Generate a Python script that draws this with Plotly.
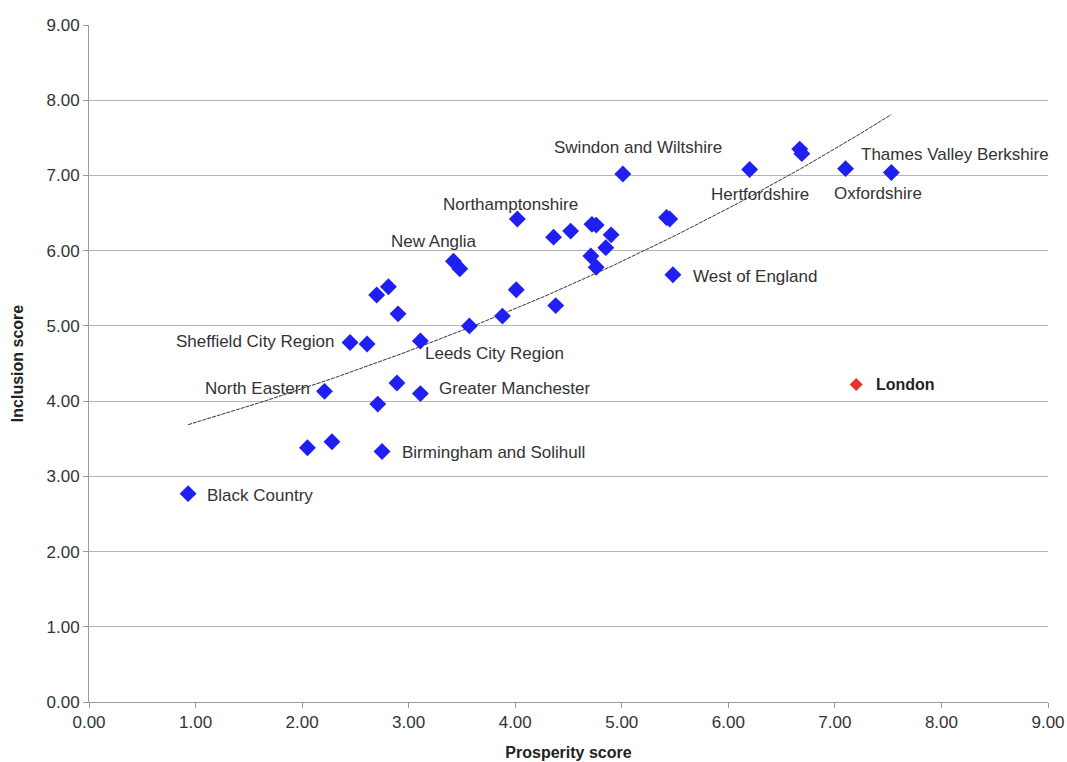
import numpy as np
import plotly.graph_objects as go

# Data (LEPs excluding London)
prosperity = [0.93, 2.05, 2.28, 2.75, 2.71, 2.21, 2.89, 3.11, 2.45, 2.61, 3.11, 3.57, 3.88,
              4.01, 4.38, 2.70, 2.81, 2.90, 3.42, 3.48, 4.02, 4.36, 4.52, 4.72, 4.76,
              4.90, 4.85, 4.71, 4.76, 5.42, 5.45, 5.48, 5.01, 6.20, 6.67, 6.69, 7.10, 7.53]
inclusion = [2.77, 3.38, 3.46, 3.33, 3.96, 4.13, 4.24, 4.10, 4.78, 4.76, 4.80, 5.00, 5.13,
             5.48, 5.27, 5.41, 5.52, 5.16, 5.86, 5.76, 6.42, 6.18, 6.26, 6.35, 6.34,
             6.21, 6.04, 5.93, 5.78, 6.44, 6.42, 5.68, 7.02, 7.08, 7.35, 7.29, 7.09, 7.04]
names = ["Black Country", "", "", "Birmingham and Solihull", "", "North Eastern", "",
         "Greater Manchester", "Sheffield City Region", "", "Leeds City Region", "", "",
         "", "", "", "", "", "New Anglia", "", "Northamptonshire", "", "", "", "",
         "", "", "", "", "", "", "West of England", "Swindon and Wiltshire", "Hertfordshire",
         "", "", "Oxfordshire", "Thames Valley Berkshire"]

london_x = [7.20]
london_y = [4.22]
london_name = ["London"]

x_ticks = [0, 1, 2, 3, 4, 5, 6, 7, 8, 9]
y_ticks = [0, 1, 2, 3, 4, 5, 6, 7, 8, 9]

# label placement: (xanchor, yanchor, xshift, yshift)
label_pos = {
    "Black Country": ("left", "middle", 17, -2),
    "Birmingham and Solihull": ("left", "middle", 18, -1),
    "Greater Manchester": ("left", "middle", 17, 5),
    "North Eastern": ("right", "middle", -12, 3),
    "Sheffield City Region": ("right", "middle", -14, 1),
    "Leeds City Region": ("left", "middle", 3, -13),
    "New Anglia": ("center", "middle", -19, 20),
    "Northamptonshire": ("center", "middle", -7, 15),
    "Swindon and Wiltshire": ("center", "middle", 15, 26),
    "Hertfordshire": ("center", "middle", 10, -25),
    "Oxfordshire": ("center", "middle", 32, -25),
    "Thames Valley Berkshire": ("left", "middle", -32, 18),
    "West of England": ("left", "middle", 18, -2),
}

FONT = "Liberation Sans"

# exponential trendline fitted to all points (including London)
px = np.array(prosperity + london_x)
py = np.array(inclusion + london_y)
b, ln_a = np.polyfit(px, np.log(py), 1)
tx = np.linspace(min(prosperity), max(prosperity), 100)
ty = np.exp(ln_a) * np.exp(b * tx)

fig = go.Figure()
fig.add_trace(go.Scatter(x=tx, y=ty, mode="lines",
                         line=dict(color="#333333", width=1, dash="4px,1px"),
                         hoverinfo="skip", showlegend=False))
fig.add_trace(go.Scatter(x=prosperity, y=inclusion, mode="markers",
                         marker=dict(symbol="diamond", size=13, color="#1f1ff2"),
                         showlegend=False))
fig.add_trace(go.Scatter(x=london_x, y=london_y, mode="markers",
                         marker=dict(symbol="diamond", size=10, color="#e8332a"),
                         showlegend=False))

for x, y, n in zip(prosperity, inclusion, names):
    if not n:
        continue
    xa, ya, xs, ys = label_pos[n]
    fig.add_annotation(x=x, y=y, text=n, showarrow=False, xanchor=xa, yanchor=ya,
                       xshift=xs, yshift=ys, font=dict(family=FONT, size=17, color="#333333"))

fig.add_annotation(x=london_x[0], y=london_y[0], text="<b>London</b>", showarrow=False,
                   xanchor="left", yanchor="middle", xshift=18, yshift=0,
                   font=dict(family=FONT, size=16, color="#222222"))

fig.update_layout(
    width=1067, height=762,
    margin=dict(l=89, r=19, t=25, b=60),
    paper_bgcolor="white", plot_bgcolor="white",
    font=dict(family=FONT, size=16, color="#333333"),
    xaxis=dict(range=[0, 9], tickvals=x_ticks, ticktext=[f"{v:.2f}" for v in x_ticks],
               automargin=False, tickfont=dict(size=17),
               showgrid=False, zeroline=False, showline=True, linecolor="#9a9a9a", linewidth=1,
               ticks="outside", ticklen=5, tickcolor="#9a9a9a",
               title=dict(text="<b>Prosperity score</b>", font=dict(size=16, color="#222222"), standoff=15)),
    yaxis=dict(range=[0, 9], tickvals=y_ticks, ticktext=[f"{v:.2f}" for v in y_ticks],
               automargin=False, tickfont=dict(size=17),
               showgrid=True, gridcolor="#b5b5b5", gridwidth=1, zeroline=False,
               showline=True, linecolor="#9a9a9a", linewidth=1,
               ticks="outside", ticklen=5, tickcolor="#9a9a9a",
               title=dict(text="<b>Inclusion score</b>", font=dict(size=16, color="#222222"), standoff=18)),
)

fig.write_html("out.html", config={"displayModeBar": False},
               post_script="document.body.style.margin='0px';document.body.style.overflow='hidden';")
